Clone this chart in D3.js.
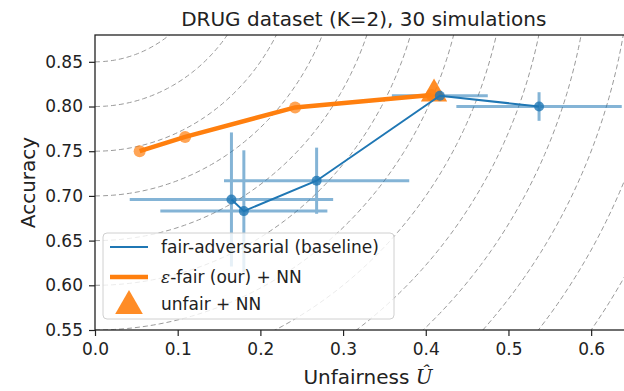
<!DOCTYPE html>
<html>
<head>
<meta charset="utf-8">
<script src="https://cdn.jsdelivr.net/npm/d3@7"></script>
<style>
  body { margin: 0; background: #fff; }
  svg { font-family: "DejaVu Sans", sans-serif; }
</style>
</head>
<body>
<div id="chart"></div>
<script>
// epsilon-fair (our) + NN
const fairX = [0.054, 0.109, 0.242, 0.407];
const fairY = [0.750, 0.766, 0.799, 0.813];

// unfair + NN
const unfairX = [0.41];
const unfairY = [0.812];

// fair-adversarial (baseline), with error bars
const advX = [0.165, 0.180, 0.268, 0.417, 0.537];
const advY = [0.696, 0.683, 0.717, 0.812, 0.800];
const advXErr = [0.123, 0.101, 0.112, 0.058, 0.100];
const advYErr = [0.075, 0.068, 0.037, 0.006, 0.016];

// dashed iso-distance circles around (0, 1)
const contourRadii = [0.1, 0.15, 0.2, 0.25, 0.3, 0.35, 0.4, 0.45, 0.5, 0.55, 0.6, 0.65, 0.7, 0.75, 0.8];

const xTicks = [0.0, 0.1, 0.2, 0.3, 0.4, 0.5, 0.6];
const yTicks = [0.55, 0.60, 0.65, 0.70, 0.75, 0.80, 0.85];

const blue = '#1f77b4';
const orange = '#ff7f0e';

const W = 624, H = 391;
const margin = {top: 35, left: 95};
const plotWidth = 537.5;
const plotHeight = 295;

const svg = d3.select('#chart').append('svg')
    .attr('width', W)
    .attr('height', H);

const g = svg.append('g')
    .attr('transform', `translate(${margin.left},${margin.top})`);

const xScale = d3.scaleLinear().domain([0, 0.65]).range([0, plotWidth]);
const yScale = d3.scaleLinear().domain([0.55, 0.88]).range([plotHeight, 0]);

g.append('clipPath').attr('id', 'clip')
    .append('rect').attr('width', plotWidth).attr('height', plotHeight);

const plot = g.append('g').attr('clip-path', 'url(#clip)');

// contours
const angles = d3.range(0, Math.PI / 2 + 0.01, Math.PI / 180);
contourRadii.forEach(r => {
    plot.append('path')
        .datum(angles)
        .attr('fill', 'none')
        .attr('stroke', '#9a9a9a')
        .attr('stroke-width', 1)
        .attr('stroke-dasharray', '5,3')
        .attr('d', d3.line()
            .x(a => xScale(r * Math.sin(a)))
            .y(a => yScale(1 - r * Math.cos(a))));
});

// baseline error bars
const adv = advX.map((x, i) => ({x, y: advY[i], ex: advXErr[i], ey: advYErr[i]}));
const bars = plot.append('g').attr('stroke', blue).attr('stroke-width', 3).attr('opacity', 0.55);
adv.forEach(d => {
    bars.append('line')
        .attr('x1', xScale(d.x - d.ex)).attr('x2', xScale(d.x + d.ex))
        .attr('y1', yScale(d.y)).attr('y2', yScale(d.y));
    bars.append('line')
        .attr('x1', xScale(d.x)).attr('x2', xScale(d.x))
        .attr('y1', yScale(d.y - d.ey)).attr('y2', yScale(d.y + d.ey));
});

// our method
const fair = fairX.map((x, i) => ({x, y: fairY[i]}));
plot.append('path')
    .datum(fair)
    .attr('fill', 'none')
    .attr('stroke', orange)
    .attr('stroke-width', 4.5)
    .attr('d', d3.line().x(d => xScale(d.x)).y(d => yScale(d.y)));
plot.selectAll('circle.fair')
    .data(fair)
    .enter()
    .append('circle')
    .attr('cx', d => xScale(d.x))
    .attr('cy', d => yScale(d.y))
    .attr('r', 6)
    .attr('fill', orange)
    .attr('opacity', 0.7);

// unfair + NN
const tri = d3.symbol().type(d3.symbolTriangle).size(300);
unfairX.forEach((x, i) => {
    plot.append('path')
        .attr('d', tri())
        .attr('transform', `translate(${xScale(x)},${yScale(unfairY[i]) - 2})`)
        .attr('fill', orange)
        .attr('opacity', 0.9);
});

// baseline line + markers
plot.append('path')
    .datum(adv)
    .attr('fill', 'none')
    .attr('stroke', blue)
    .attr('stroke-width', 2)
    .attr('d', d3.line().x(d => xScale(d.x)).y(d => yScale(d.y)));
plot.selectAll('circle.adv')
    .data(adv)
    .enter()
    .append('circle')
    .attr('cx', d => xScale(d.x))
    .attr('cy', d => yScale(d.y))
    .attr('r', 5)
    .attr('fill', blue)
    .attr('opacity', 0.8);

// axes
const xAxis = g.append('g')
    .attr('transform', `translate(0,${plotHeight})`)
    .call(d3.axisBottom(xScale).tickValues(xTicks).tickFormat(d3.format('.1f')).tickSize(6).tickPadding(7));
const yAxis = g.append('g')
    .call(d3.axisLeft(yScale).tickValues(yTicks).tickFormat(d3.format('.2f')).tickSize(6).tickPadding(6));
[xAxis, yAxis].forEach(ax => {
    ax.select('.domain').remove();
    ax.selectAll('line').attr('stroke', '#222').attr('stroke-width', 1.2);
    ax.selectAll('text').attr('fill', '#222').style('font-size', '17px').style('font-family', 'DejaVu Sans');
});

g.append('rect')
    .attr('width', plotWidth)
    .attr('height', plotHeight)
    .attr('fill', 'none')
    .attr('stroke', '#222')
    .attr('stroke-width', 1.3);

// legend
const legend = svg.append('g');
legend.append('rect')
    .attr('x', 103).attr('y', 233)
    .attr('width', 291).attr('height', 86)
    .attr('rx', 4)
    .attr('fill', 'white').attr('fill-opacity', 0.8)
    .attr('stroke', '#d0d0d0');
const legendItems = [
    {label: 'fair-adversarial (baseline)', type: 'line', color: blue, width: 2.2},
    {label: 'ε-fair (our) + NN', type: 'line', color: orange, width: 4.5},
    {label: 'unfair + NN', type: 'tri', color: orange}
];
const rowY = [247, 277, 304];
legendItems.forEach((item, i) => {
    if (item.type === 'line') {
        legend.append('line')
            .attr('x1', 110).attr('x2', 148)
            .attr('y1', rowY[i]).attr('y2', rowY[i])
            .attr('stroke', item.color)
            .attr('stroke-width', item.width);
    } else {
        legend.append('path')
            .attr('d', d3.symbol().type(d3.symbolTriangle).size(330)())
            .attr('transform', `translate(129,${rowY[i] + 2})`)
            .attr('fill', item.color)
            .attr('opacity', 0.9);
    }
    const t = legend.append('text')
        .attr('x', 161)
        .attr('y', rowY[i])
        .attr('dy', '0.35em')
        .attr('fill', '#222')
        .style('font-size', '17px');
    if (i === 1) {
        t.append('tspan').attr('font-style', 'italic').attr('font-family', 'DejaVu Serif').text('ε');
        t.append('tspan').text('-fair (our) + NN');
    } else {
        t.text(item.label);
    }
});

// title and axis labels
svg.append('text')
    .attr('x', margin.left + plotWidth / 2)
    .attr('y', 26)
    .attr('text-anchor', 'middle')
    .attr('fill', '#222')
    .style('font-size', '20px')
    .text('DRUG dataset (K=2), 30 simulations');

const xl = svg.append('text')
    .attr('x', 368)
    .attr('y', 384)
    .attr('text-anchor', 'middle')
    .attr('fill', '#222')
    .style('font-size', '20px');
xl.append('tspan').text('Unfairness ');
xl.append('tspan').attr('font-family', 'DejaVu Serif').attr('font-style', 'italic').text('U\u0302');

svg.append('text')
    .attr('transform', `translate(35,${margin.top + plotHeight / 2}) rotate(-90)`)
    .attr('text-anchor', 'middle')
    .attr('fill', '#222')
    .style('font-size', '20px')
    .text('Accuracy');
</script>
</body>
</html>
